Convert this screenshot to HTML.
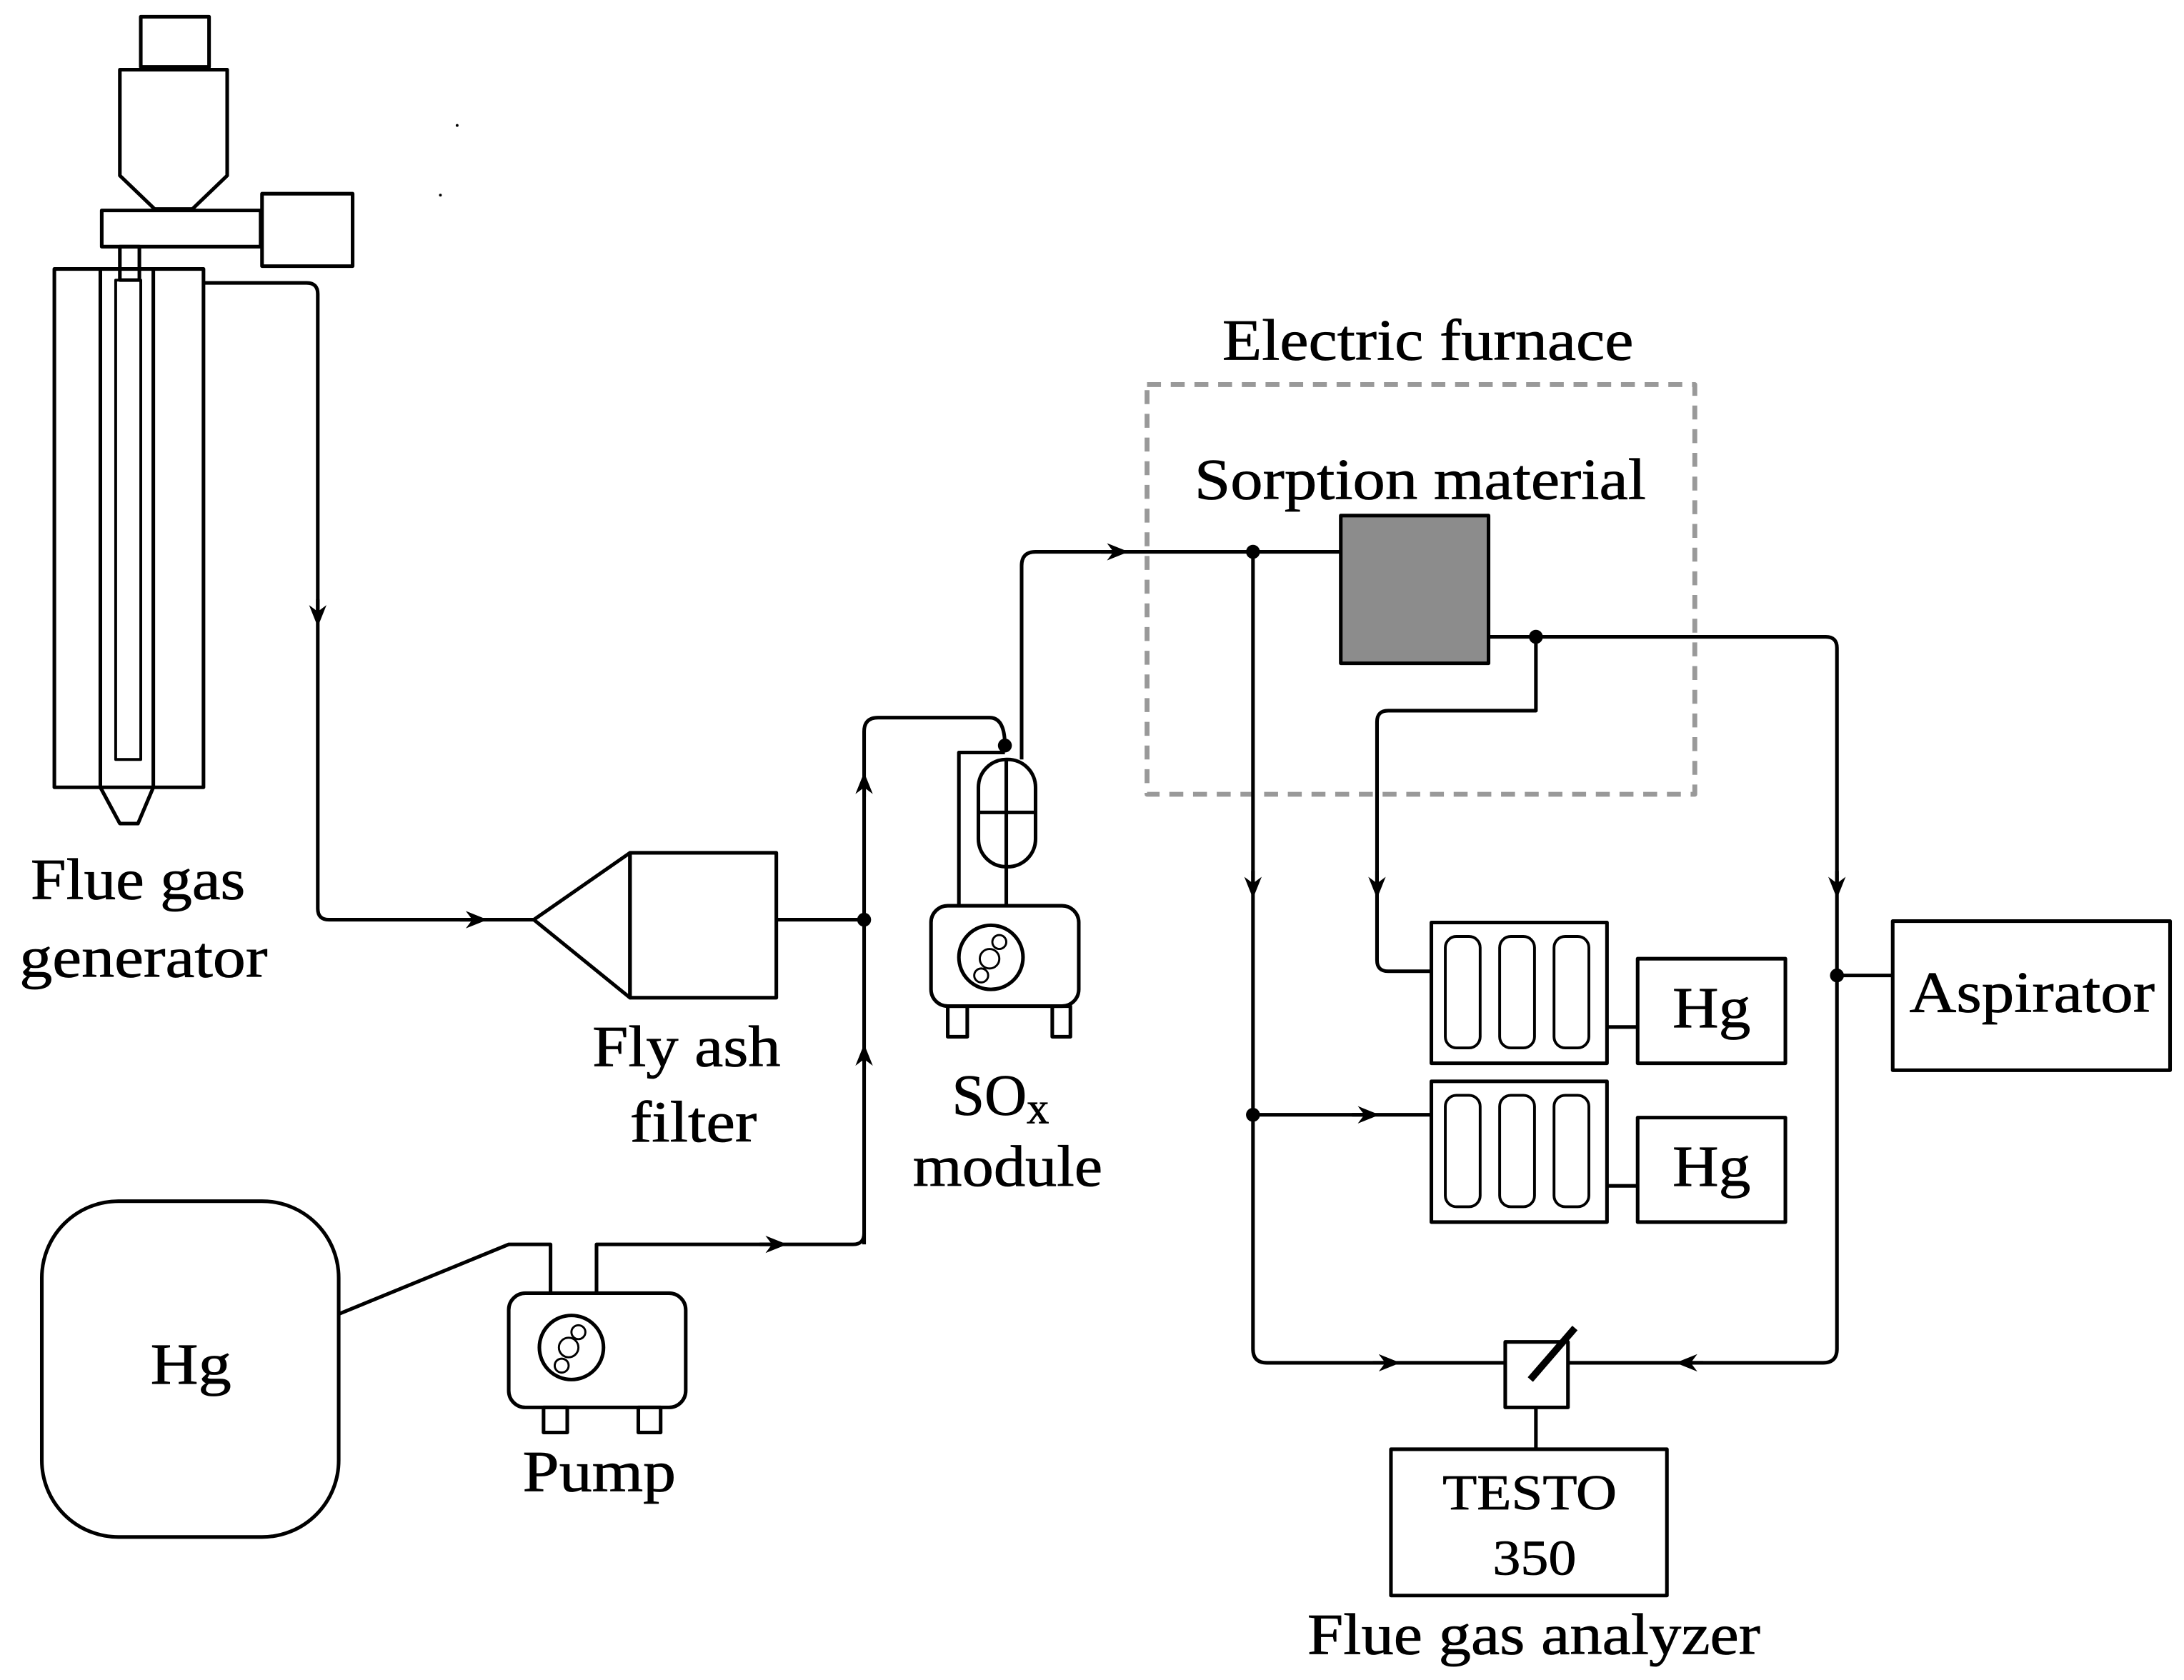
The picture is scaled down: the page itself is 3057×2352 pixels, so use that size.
<!DOCTYPE html>
<html><head><style>html,body{margin:0;padding:0;background:#fff}svg{display:block}</style></head><body>
<svg xmlns="http://www.w3.org/2000/svg" width="3057" height="2352" viewBox="0 0 1567 1205.6">
<defs><marker id="a" viewBox="0 0 10 10" refX="5" refY="5" markerWidth="6" markerHeight="6" orient="auto"><path d="M0,1 L10,5 L0,9 L3,5 Z" fill="#000"/></marker></defs>
<g fill="none" stroke="#000" stroke-width="2.6" stroke-linejoin="round">
<rect x="101" y="12" width="49" height="36"/>
<path d="M86,50 H163 V126 L138,150 H111 L86,126 Z"/>
<rect x="73" y="151" width="114" height="26"/>
<rect x="188" y="139" width="65" height="52"/>
<rect x="86" y="177" width="14" height="24"/>
<rect x="39" y="193" width="107" height="372"/>
<line x1="72" y1="193" x2="72" y2="565"/><line x1="110" y1="193" x2="110" y2="565"/>
<rect x="83" y="201" width="18" height="344" stroke-width="2"/>
<path d="M72,565 L86,591 H99 L110,565"/>
<path d="M146,203 H220 Q228,203 228,211 V652 Q228,660 236,660 H385"/>
<path d="M228,430 V442" marker-end="url(#a)"/>
<path d="M330,660 H342" marker-end="url(#a)"/>
<path d="M383,660 L452,612 V716 Z"/>
<rect x="452" y="612" width="105" height="104"/>
<path d="M557,660 H620"/>
<path d="M620,893 V525 Q620,515 630,515 H710 Q721,515 721,535"/>
<path d="M620,572 V562" marker-end="url(#a)"/>
<path d="M620,767 V757" marker-end="url(#a)"/>
<rect x="30" y="862" width="213" height="241" rx="55"/>
<path d="M243,943 L365,893 H395 V928"/>
<path d="M428,928 V893 H612 Q620,893 620,885"/>
<path d="M545,893 H557" marker-end="url(#a)"/>
<rect x="365" y="928" width="127" height="82" rx="12"/>
<rect x="390" y="1010" width="17" height="18"/><rect x="458" y="1010" width="16" height="18"/>
<circle cx="410" cy="967" r="23"/>
<g stroke-width="1.5"><circle cx="408" cy="967" r="7"/><circle cx="415" cy="956" r="5"/><circle cx="403" cy="980" r="5"/></g>
<rect x="668" y="650" width="106" height="72" rx="12"/>
<rect x="680" y="722" width="14" height="22"/><rect x="755" y="722" width="13" height="22"/>
<circle cx="711" cy="687" r="23"/>
<g stroke-width="1.5"><circle cx="710" cy="688" r="7"/><circle cx="717" cy="676" r="5"/><circle cx="704" cy="700" r="5"/></g>
<rect x="702" y="545" width="41" height="77" rx="20"/>
<path d="M702,583 H743 M722,545 V622 M722,622 V650"/>
<path d="M688,650 V540 H721"/>
<path d="M733,545 V406 Q733,396 743,396 H962"/>
<path d="M790,396 H802" marker-end="url(#a)"/>
<rect x="823" y="276" width="393" height="294" stroke="#999" stroke-width="3.5" stroke-dasharray="10,7"/>
<rect x="962" y="370" width="106" height="106" fill="#8c8c8c"/>
<path d="M899,396 V968 Q899,978 909,978 H1080"/>
<path d="M899,625 V637" marker-end="url(#a)"/>
<path d="M899,800 H1027"/>
<path d="M970,800 H982" marker-end="url(#a)"/>
<path d="M985,978 H997" marker-end="url(#a)"/>
<path d="M1068,457 H1310 Q1318,457 1318,465 V968 Q1318,978 1308,978 H1125"/>
<path d="M1318,625 V637" marker-end="url(#a)"/>
<path d="M1222,978 H1210" marker-end="url(#a)"/>
<path d="M1318,700 H1358"/>
<rect x="1358" y="661" width="199" height="107"/>
<path d="M1102,457 V510 H996 Q988,510 988,518 V689 Q988,697 996,697 H1027"/>
<path d="M988,625 V637" marker-end="url(#a)"/>
<rect x="1027" y="662" width="126" height="101"/>
<rect x="1027" y="776" width="126" height="101"/>
<g stroke-width="2">
<rect x="1037" y="672" width="25" height="80" rx="8"/><rect x="1076" y="672" width="25" height="80" rx="8"/><rect x="1115" y="672" width="25" height="80" rx="8"/>
<rect x="1037" y="786" width="25" height="80" rx="8"/><rect x="1076" y="786" width="25" height="80" rx="8"/><rect x="1115" y="786" width="25" height="80" rx="8"/>
</g>
<path d="M1153,737 H1175 M1153,851 H1175"/>
<rect x="1175" y="688" width="106" height="75"/>
<rect x="1175" y="802" width="106" height="75"/>
<rect x="1080" y="963" width="45" height="47"/>
<path d="M1098,990 L1130,953" stroke-width="5"/>
<path d="M1102,1010 V1040"/>
<rect x="998" y="1040" width="198" height="105"/>
</g>
<g fill="#000">
<circle cx="620" cy="660" r="5"/><circle cx="721" cy="535" r="5"/><circle cx="899" cy="396" r="5"/>
<circle cx="1102" cy="457" r="5"/><circle cx="899" cy="800" r="5"/><circle cx="1318" cy="700" r="5"/>
<circle cx="328" cy="90" r="1"/><circle cx="316" cy="140" r="1"/>
</g>
<g font-family="Liberation Serif, serif" font-size="42" fill="#000" stroke="#000" stroke-width="0.4" lengthAdjust="spacingAndGlyphs">
<text x="877" y="258" textLength="295" lengthAdjust="spacingAndGlyphs">Electric furnace</text>
<text x="857" y="358" textLength="324" lengthAdjust="spacingAndGlyphs">Sorption material</text>
<text x="22" y="645" textLength="154" lengthAdjust="spacingAndGlyphs">Flue gas</text>
<text x="14" y="701" textLength="178" lengthAdjust="spacingAndGlyphs">generator</text>
<text x="425" y="765" textLength="135" lengthAdjust="spacingAndGlyphs">Fly ash</text>
<text x="452" y="819" textLength="91" lengthAdjust="spacingAndGlyphs">filter</text>
<text x="683" y="800">SO<tspan font-size="32" dy="6">x</tspan></text>
<text x="655" y="851" textLength="136" lengthAdjust="spacingAndGlyphs">module</text>
<text x="108" y="993" textLength="58" lengthAdjust="spacingAndGlyphs">Hg</text>
<text x="375" y="1070" textLength="110" lengthAdjust="spacingAndGlyphs">Pump</text>
<text x="1200" y="737" textLength="56" lengthAdjust="spacingAndGlyphs">Hg</text>
<text x="1200" y="851" textLength="56" lengthAdjust="spacingAndGlyphs">Hg</text>
<text x="1370" y="726" textLength="176" lengthAdjust="spacingAndGlyphs">Aspirator</text>
<text x="1035" y="1083" font-size="36" textLength="125" lengthAdjust="spacingAndGlyphs">TESTO</text>
<text x="1071" y="1130" font-size="36" textLength="60" lengthAdjust="spacingAndGlyphs">350</text>
<text x="938" y="1187" textLength="325" lengthAdjust="spacingAndGlyphs">Flue gas analyzer</text>
</g>
</svg>
</body></html>
